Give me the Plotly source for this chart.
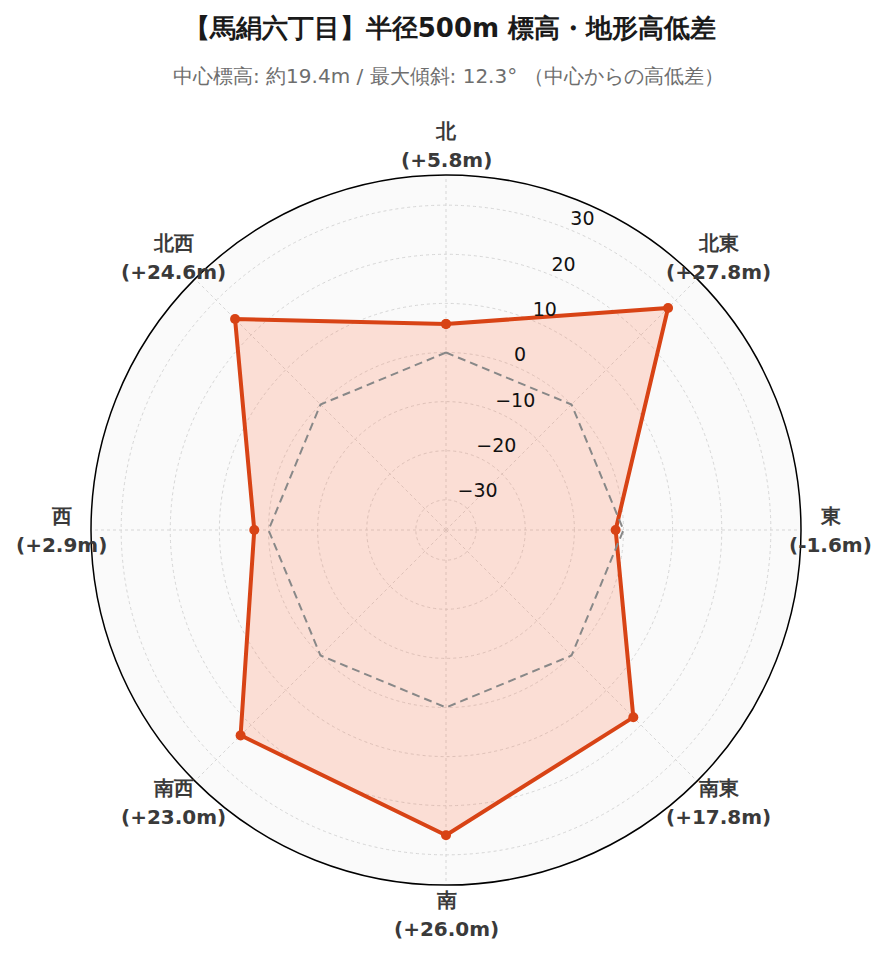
import math
import plotly.graph_objects as go

directions = ["北", "北東", "東", "南東", "南", "南西", "西", "北西"]
diffs = [5.8, 27.8, -1.6, 17.8, 26.0, 23.0, 2.9, 24.6]
radial_ticks = [-30, -20, -10, 0, 10, 20, 30]

step = 360 / len(directions)
angles = [i * step for i in range(len(directions))]
value_labels = [f"({v:+.1f}m)" for v in diffs]

theta_closed = angles + [angles[0]]
r_closed = diffs + [diffs[0]]
zero_closed = [0] * len(theta_closed)

rmax = max(abs(v) for v in diffs) * 1.3

W, H = 889, 962
L, T = 83, 167
PW = PH = 710
R = W - L - PW
B = H - T - PH
label_dist = 1.0845  # label centre distance, in units of the polar radius
line_gap = 14.5      # half the spacing between the two label lines, px

fig = go.Figure()
fig.add_trace(go.Scatterpolar(
    r=r_closed, theta=theta_closed, mode="lines+markers",
    fill="toself", fillcolor="rgba(255,112,67,0.2)",
    line=dict(color="#d84315", width=4),
    marker=dict(size=10, color="#d84315"),
    showlegend=False,
))
fig.add_trace(go.Scatterpolar(
    r=zero_closed, theta=theta_closed, mode="lines",
    line=dict(color="#888888", width=2, dash="8px,5px"),
    hoverinfo="skip", showlegend=False,
))
# radial tick labels, placed along the 22.5° spoke
fig.add_trace(go.Scatterpolar(
    r=radial_ticks, theta=[step / 2] * len(radial_ticks), mode="text",
    text=[str(v).replace("-", "\u2212") for v in radial_ticks],
    textposition="top right",
    textfont=dict(size=19, color="#111111", family="DejaVu Sans, sans-serif"),
    hoverinfo="skip", showlegend=False, cliponaxis=False,
))

annotations = [dict(
    text="中心標高: 約19.4m / 最大傾斜: 12.3° （中心からの高低差）",
    x=(440 - L) / PW, xref="paper", xanchor="center",
    y=1 + (T - 68) / PH, yref="paper", yanchor="middle",
    showarrow=False,
    font=dict(family="DejaVu Sans, sans-serif", size=20, color="#6e6e6e"),
)]
label_font = dict(family="DejaVu Sans, sans-serif", size=20, color="#3a3a3a")
for ang, name, val in zip(angles, directions, value_labels):
    rad = math.radians(ang)
    x = 0.5 + 0.5 * label_dist * math.sin(rad)
    y = 0.5 + 0.5 * label_dist * math.cos(rad)
    for txt, shift in ((name, line_gap), (val, -line_gap)):
        annotations.append(dict(
            text=f"<b>{txt}</b>", showarrow=False,
            x=x, xref="paper", y=y, yref="paper", yshift=shift,
            xanchor="center", yanchor="middle", align="center",
            font=label_font,
        ))

fig.update_layout(
    width=W, height=H,
    paper_bgcolor="white",
    font=dict(family="DejaVu Sans, sans-serif", size=16, color="#333333"),
    title=dict(
        text="<b>【馬絹六丁目】半径500m 標高・地形高低差</b>",
        x=442 / W, xanchor="center", xref="container",
        y=1 - 20 / H, yanchor="middle", yref="container",
        font=dict(family="DejaVu Sans, sans-serif", size=26, color="#1a1a1a"),
    ),
    annotations=annotations,
    margin=dict(l=L, r=R, t=T, b=B),
    polar=dict(
        bgcolor="#fafafa",
        angularaxis=dict(
            direction="clockwise", rotation=90,
            tickmode="array", tickvals=angles, ticktext=directions,
            showline=True, linecolor="black", linewidth=1.5,
            gridcolor="#d6d6d6", griddash="dot", gridwidth=1,
            showticklabels=False, ticks="",
        ),
        radialaxis=dict(
            range=[-rmax, rmax], angle=90 - step / 2,
            tickvals=radial_ticks, showticklabels=False,
            showline=False, gridcolor="#d6d6d6", griddash="dot", gridwidth=1,
            ticks="",
        ),
    ),
)

fig.write_html("out.html")
